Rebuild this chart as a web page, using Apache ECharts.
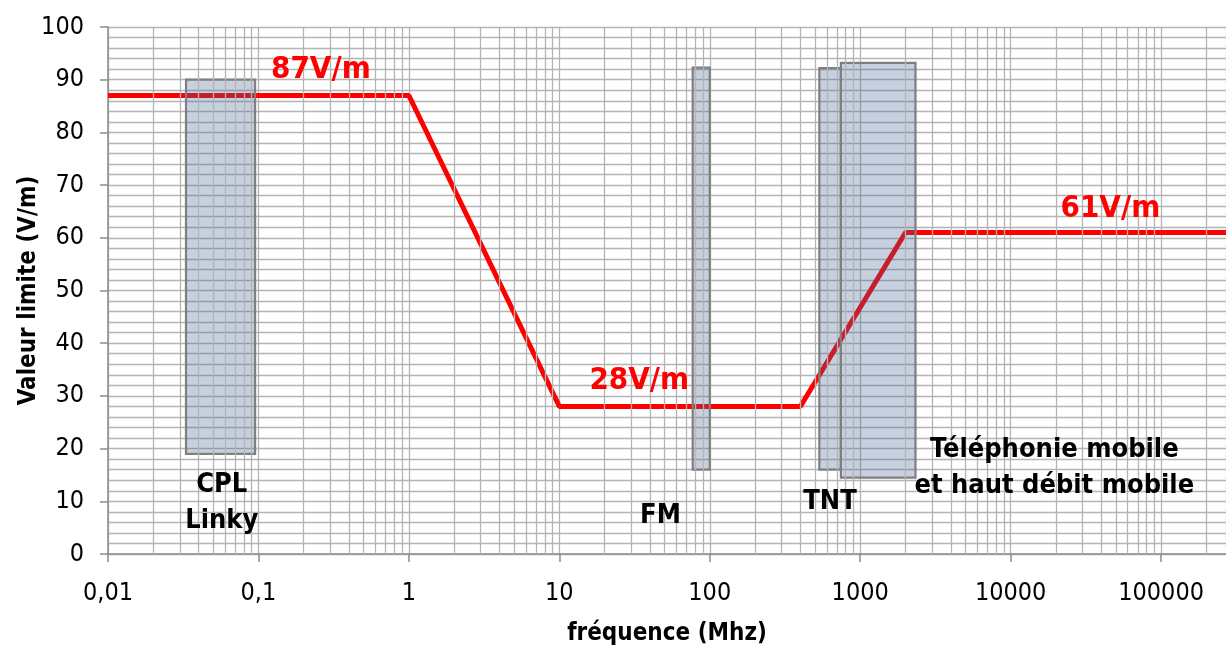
<!DOCTYPE html>
<html>
<head>
<meta charset="utf-8">
<script src="https://cdn.jsdelivr.net/npm/echarts@6/dist/echarts.min.js"></script>
<style>
html,body{margin:0;padding:0;background:#fff;}
#chart{width:1226px;height:649px;}
</style>
</head>
<body>
<div id="chart"></div>
<script>
// Limit line (frequency MHz, V/m)
const limitFreq = [0.01, 1, 10, 400, 2000, 270000];
const limitValue = [87, 87, 28, 28, 61, 61];

// Bands
const bandNames = ['CPL', 'FM', 'TNT', 'Tel'];
const bandStart = [0.033, 77, 535, 744];
const bandEnd = [0.095, 100, 744, 2330];
const bandLow = [19, 16, 16, 14.5];
const bandHigh = [90, 92.3, 92.2, 93.2];

// Labels
const redLabels = ['87V/m', '28V/m', '61V/m'];
const redLabelX = [0.26, 34, 46000];
const redLabelY = [91.8, 32.8, 65.5];

const bandLabels = ['CPL\nLinky', 'FM', 'TNT', 'Téléphonie mobile\net haut débit mobile'];
const bandLabelX = [0.057, 47, 630, 19500];
const bandLabelY = [9.6, 7.2, 9.9, 16.3];

const xMin = 0.01, xMax = 270000;
const decadeTicks = [0.01, 0.1, 1, 10, 100, 1000, 10000, 100000];
const minorMultipliers = [2, 3, 4, 5, 6, 7, 8, 9];

const minorX = [];
decadeTicks.forEach(d => minorMultipliers.forEach(m => {
  const v = +(d * m).toPrecision(6);
  if (v < xMax) minorX.push(v);
}));

const chart = echarts.init(document.getElementById('chart'));
const FONT = 'DejaVu Sans Condensed';

function textSeries(name, texts, xs, ys, style) {
  return {
    type: 'custom', name: name, z: 6, silent: true,
    data: texts.map((t, i) => [xs[i], ys[i], i]),
    encode: { x: 0, y: 1 },
    renderItem: function (params, api) {
      const p = api.coord([api.value(0), api.value(1)]);
      const i = api.value(2);
      return {
        type: 'text', x: p[0], y: p[1],
        style: Object.assign({ text: texts[i], align: 'center', verticalAlign: 'middle' }, style)
      };
    }
  };
}

chart.setOption({
  animation: false,
  backgroundColor: '#ffffff',
  grid: { left: 108, right: 0, top: 27, bottom: 95, containLabel: false, outerBoundsMode: 'none' },
  xAxis: {
    type: 'log', logBase: 10, min: xMin, max: xMax,
    name: 'fréquence (Mhz)', nameLocation: 'middle', nameGap: 68, nameMoveOverlap: false,
    nameTextStyle: { fontFamily: FONT, fontWeight: 'bold', fontSize: 24, color: '#000' },
    axisLine: { show: true, lineStyle: { color: '#8c8c8c', width: 1.5 } },
    axisTick: { show: true, length: 8, lineStyle: { color: '#8c8c8c', width: 1.5 } },
    axisLabel: {
      margin: 27, fontFamily: FONT, fontSize: 25, color: '#000', showMaxLabel: false,
      formatter: function (v) {
        const l = Math.log10(v);
        if (Math.abs(l - Math.round(l)) > 1e-6) return '';
        return String(+v.toPrecision(6)).replace('.', ',');
      }
    },
    splitLine: { show: true, lineStyle: { color: '#b4b4b4', width: 1.3 } }
  },
  yAxis: {
    type: 'value', min: 0, max: 100, interval: 10,
    name: 'Valeur limite (V/m)', nameLocation: 'middle', nameGap: 67, nameMoveOverlap: false,
    nameTextStyle: { fontFamily: FONT, fontWeight: 'bold', fontSize: 24, color: '#000' },
    axisLine: { show: true, lineStyle: { color: '#8c8c8c', width: 1.5 } },
    axisTick: { show: true, length: 8, lineStyle: { color: '#8c8c8c', width: 1.5 } },
    axisLabel: { margin: 24, fontFamily: FONT, fontSize: 25, color: '#000' },
    splitLine: { show: true, lineStyle: { color: '#b4b4b4', width: 1.3 } },
    minorTick: { show: false, splitNumber: 5 },
    minorSplitLine: { show: true, lineStyle: { color: '#b4b4b4', width: 1.3 } }
  },
  series: [
    {
      type: 'line', name: 'minorgrid', data: [], silent: true, z: 1,
      markLine: {
        silent: true, symbol: 'none', animation: false,
        label: { show: false },
        lineStyle: { color: '#b4b4b4', width: 1.3, type: 'solid' },
        data: minorX.map(v => ({ xAxis: v }))
      }
    },
    {
      type: 'line', name: 'limite', z: 3,
      data: limitFreq.map((f, i) => [f, limitValue[i]]),
      symbol: 'none',
      lineStyle: { color: '#ff0000', width: 5 },
      itemStyle: { color: '#ff0000' }
    },
    {
      type: 'custom', name: 'bands', z: 4, silent: true,
      data: bandNames.map((n, i) => [bandStart[i], bandEnd[i], bandLow[i], bandHigh[i]]),
      encode: { x: [0, 1], y: [2, 3] },
      renderItem: function (params, api) {
        const p0 = api.coord([api.value(0), api.value(3)]);
        const p1 = api.coord([api.value(1), api.value(2)]);
        return {
          type: 'rect',
          shape: { x: p0[0], y: p0[1], width: p1[0] - p0[0], height: p1[1] - p0[1] },
          style: { fill: 'rgba(70,100,150,0.30)', stroke: '#7f7f7f', lineWidth: 2.2 }
        };
      }
    },
    textSeries('redlabels', redLabels, redLabelX, redLabelY,
      { fontFamily: FONT, fontWeight: 'bold', fontSize: 31, fill: '#ff0000' }),
    textSeries('bandlabels', bandLabels, bandLabelX, bandLabelY,
      { fontFamily: FONT, fontWeight: 'bold', fontSize: 27, lineHeight: 36, fill: '#000000' })
  ]
});
</script>
</body>
</html>
